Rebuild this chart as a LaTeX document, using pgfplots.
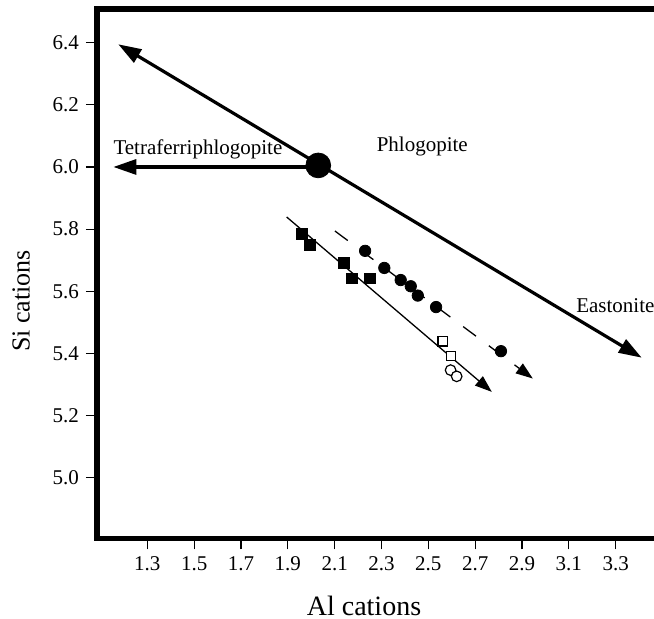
\documentclass[border=0pt]{standalone}
\usepackage{fontspec}
\setmainfont{Liberation Serif}
\usepackage{pgfplots}
\pgfplotsset{compat=1.18}
\usetikzlibrary{arrows.meta}

\begin{document}
\begin{tikzpicture}
\begin{axis}[
  at={(0,0)}, anchor=south west, scale only axis,
  width=283.5pt, height=264.75pt,
  xmin=1.0852, xmax=3.5062, ymin=4.804, ymax=6.5086,
  xtick={1.3,1.5,1.7,1.9,2.1,2.3,2.5,2.7,2.9,3.1,3.3},
  ytick={5.0,5.2,5.4,5.6,5.8,6.0,6.2,6.4},
  xtick pos=bottom, ytick pos=left, tick align=outside,
  major tick length=5.5pt,
  tick style={black, line width=0.6pt},
  axis line style={line width=2.6pt},
  /pgf/number format/assume math mode=true,
  /pgf/number format/fixed, /pgf/number format/fixed zerofill,
  /pgf/number format/precision=1,
  tick label style={font=\fontsize{10.5}{12}\selectfont},
  xlabel={Al cations}, ylabel={Si cations},
  xlabel style={font=\fontsize{14}{16}\selectfont, at={(axis description cs:0.4709,-0.1275)}, anchor=center},
  ylabel style={font=\fontsize{13}{15}\selectfont, at={(axis description cs:-0.134,0.4485)}, anchor=center, rotate=0},
]
% end-member vectors
\addplot[black, line width=1.6pt, {Triangle[length=11.5pt,width=7.5pt]}-{Triangle[length=11.5pt,width=7.5pt]}]
  coordinates {(1.176,6.395) (3.411,5.386)};
\addplot[black, line width=1.6pt, -{Triangle[length=11.5pt,width=7.5pt]}]
  coordinates {(2.030,6.0) (1.155,6.0)};
% trend lines
\addplot[black, line width=0.65pt, -{Triangle[length=8.5pt,width=6pt]}]
  coordinates {(1.895,5.839) (2.771,5.276)};
\addplot[black, line width=0.65pt, dash pattern=on 8pt off 8pt, -{Triangle[length=8.5pt,width=6pt]}]
  coordinates {(2.101,5.794) (2.946,5.319)};
% phlogopite
\addplot[only marks, mark=*, mark size=6.2pt, black] coordinates {(2.030,6.005)};
% samples
\addplot[only marks, mark=square*, mark size=2.7pt, black]
  coordinates {(1.959,5.784) (1.995,5.749) (2.140,5.692) (2.173,5.641) (2.251,5.641)};
\addplot[only marks, mark=*, mark size=2.85pt, black]
  coordinates {(2.230,5.730) (2.312,5.675) (2.382,5.636) (2.425,5.616) (2.455,5.586) (2.533,5.549) (2.810,5.407)};
\addplot[only marks, mark=square*, mark size=2.35pt, draw=black, fill=white, line width=0.6pt]
  coordinates {(2.561,5.439) (2.597,5.391)};
\addplot[only marks, mark=*, mark size=2.65pt, draw=black, fill=white, line width=0.6pt]
  coordinates {(2.595,5.346) (2.621,5.326)};
% labels
\node[anchor=base west, inner sep=0pt, font=\fontsize{10.5}{12}\selectfont] at (axis cs:1.154,6.040) {Tetraferriphlogopite};
\node[anchor=base west, inner sep=0pt, font=\fontsize{10.5}{12}\selectfont] at (axis cs:2.278,6.0495) {Phlogopite};
\node[anchor=base west, inner sep=0pt, font=\fontsize{10.5}{12}\selectfont] at (axis cs:3.130,5.533) {Eastonite};
\end{axis}
\pgfresetboundingbox
\useasboundingbox (-48.5pt,-40.25pt) rectangle (278.5pt,269.25pt);
\end{tikzpicture}
\end{document}
